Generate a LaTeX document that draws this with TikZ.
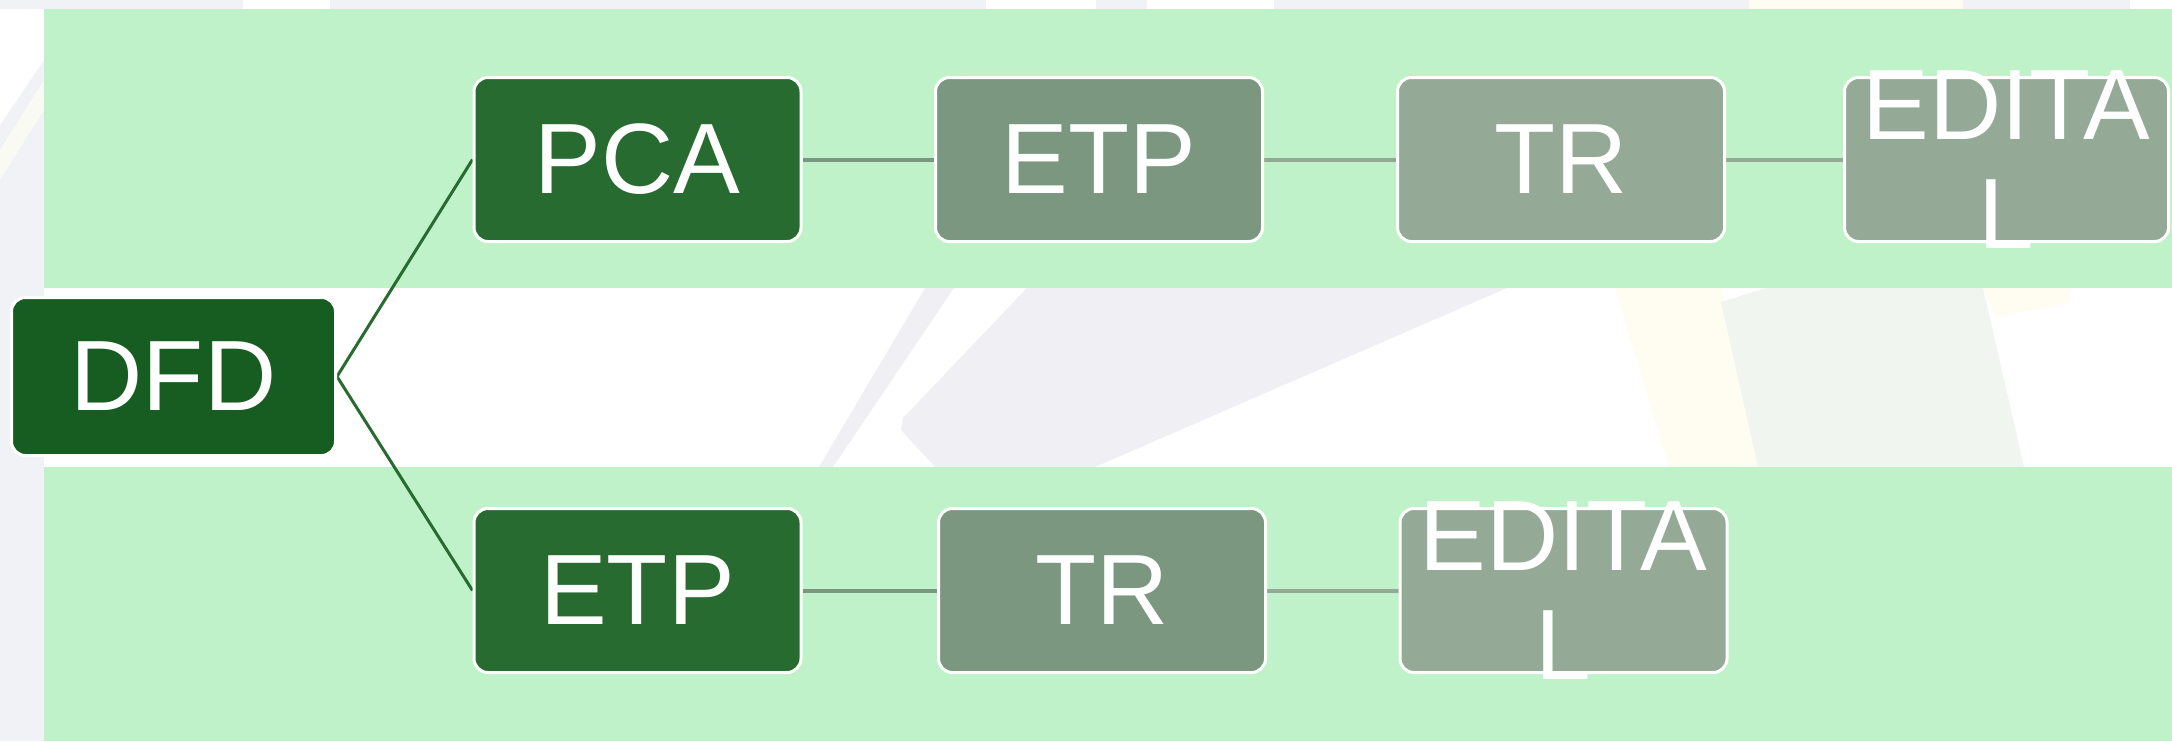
\documentclass[tikz,border=0pt]{standalone}
\usepackage{fontspec}
\setmainfont{Liberation Sans}
\pgfdeclarelayer{bg}
\pgfsetlayers{bg,main}
\definecolor{bandgreen}{RGB}{191,242,200}
\definecolor{bggray}{RGB}{241,242,246}
\definecolor{wmgray}{RGB}{240,240,244}
\definecolor{wmgreen}{RGB}{240,246,239}
\definecolor{wmcream}{RGB}{255,253,242}
\definecolor{dfdgreen}{RGB}{23,92,32}
\definecolor{darkgreen}{RGB}{40,107,48}
\definecolor{midgreen}{RGB}{124,151,127}
\definecolor{lightgreen}{RGB}{148,169,150}
\tikzset{
  boxfont/.style={font=\fontsize{50}{54.5}\selectfont},
  box/.style={draw=white, line width=1.5pt, rounded corners=7pt, minimum width=163.5pt,
    minimum height=82pt, inner sep=0pt, text=white, align=center, boxfont},
  wrapped/.style={label={[name=#1, text=white, align=center, inner sep=0pt, boxfont]center:EDITA\\L}},
  hconn/.style={line width=2pt},
  dconn/.style={line width=1.5pt, draw=darkgreen}
}
\begin{document}
\begin{tikzpicture}[x=0.5pt,y=-0.5pt]
\useasboundingbox (0,0) rectangle (2172,741);
% nodes
\node[box, fill=dfdgreen, minimum width=162pt, minimum height=79pt] (dfd) at (173.5,376.5) {DFD};
\node[box, fill=darkgreen] (pca) at (637.5,159.5) {PCA};
\node[box, fill=midgreen] (etpa) at (1099,159.5) {ETP};
\node[box, fill=lightgreen] (tra) at (1561,159.5) {TR};
\node[box, fill=lightgreen, minimum width=162pt, wrapped=edialabel] (edia) at (2006.5,159.5) {};
\node[box, fill=darkgreen] (etpb) at (637.5,590.5) {ETP};
\node[box, fill=midgreen] (trb) at (1102,590.5) {TR};
\node[box, fill=lightgreen, wrapped=ediblabel] (edib) at (1563.5,590.5) {};
\begin{pgfonlayer}{bg}
  \fill[white] (0,0) rectangle (2172,741);
  % gray frame strips
  \fill[bggray] (0,0) rectangle (2172,9);
  \fill[bggray] (0,0) rectangle (44,741);
  \fill[white] (243,0) rectangle (330,9);
  \fill[white] (986,0) rectangle (1096,9);
  \fill[white] (1147,0) rectangle (1274,9);
  \fill[wmcream] (1749,0) rectangle (1963,9);
  \fill[white] (2130,0) rectangle (2172,9);
  \fill[white] (0,9) -- (44,9) -- (44,60) -- (0,125) -- cycle;
  \fill[wmcream!60!wmgreen] (0,150) -- (44,80) -- (44,110) -- (0,180) -- cycle;
  % watermark shapes in the gap
  \fill[wmgray] (819,467) -- (925,288) -- (954,288) -- (833,467) -- cycle;
  \fill[wmgray] (1027,288) -- (1507,288) -- (1095,467) -- (935,467) -- (901,430) -- (903,418) -- cycle;
  \fill[wmcream] (1615,288) -- (1721,288) -- (1758,467) -- (1669,467) -- cycle;
  \fill[wmgreen] (1721,302) -- (1766,288) -- (1983,288) -- (2024,467) -- (1758,467) -- cycle;
  \fill[wmcream] (1983,288) -- (2072,288) -- (2068,303) -- (1995,317) -- cycle;
  % bands
  \fill[bandgreen] (44,9) rectangle (2172,288);
  \fill[bandgreen] (44,467) rectangle (2172,741);
  % connectors
  \draw[dconn] (dfd.east) -- (pca.west);
  \draw[dconn] (dfd.east) -- (etpb.west);
  \draw[hconn, draw=midgreen] (pca.east) -- (etpa.west);
  \draw[hconn, draw=lightgreen] (etpa.east) -- (tra.west);
  \draw[hconn, draw=lightgreen] (tra.east) -- (edia.west);
  \draw[hconn, draw=midgreen] (etpb.east) -- (trb.west);
  \draw[hconn, draw=lightgreen] (trb.east) -- (edib.west);
\end{pgfonlayer}
\end{tikzpicture}
\end{document}
